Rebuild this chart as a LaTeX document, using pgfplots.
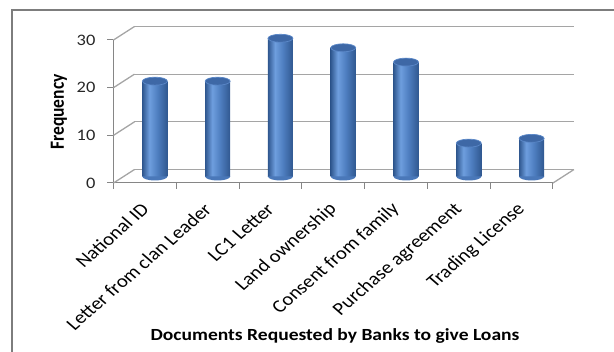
\documentclass[border=0pt]{standalone}
\usepackage{pgfplots}
\pgfplotsset{compat=1.18}
\usepackage{fontspec}
\setmainfont{Carlito}
\definecolor{gridc}{RGB}{165,165,165}
\definecolor{axc}{RGB}{134,134,134}
\definecolor{framec}{RGB}{125,125,125}
\definecolor{bdark}{RGB}{48,88,144}
\definecolor{blight}{RGB}{110,158,222}
\definecolor{bmid}{RGB}{78,126,192}
\definecolor{capc}{RGB}{62,104,166}
\pgfdeclarehorizontalshading{cyl}{100bp}{color(0bp)=(bdark); color(25bp)=(bdark); color(39bp)=(blight); color(55bp)=(bmid); color(75bp)=(bdark); color(100bp)=(bdark)}
\pgfdeclareplotmark{cylcap}{\pgfpathellipse{\pgfpointorigin}{\pgfqpoint{12.5pt}{0pt}}{\pgfqpoint{0pt}{4pt}}\pgfusepathqfillstroke}
\pgfdeclareplotmark{cylbot}{\pgfpathmoveto{\pgfqpoint{-12.5pt}{0pt}}\pgfpatharc{180}{360}{12.5pt and 4pt}\pgfpathclose\pgfusepathqfill}
\pgfplotsset{cylbar/.style={ybar, bar width=25pt, bar shift=10pt, yshift=6.5pt, draw=none, shading=cyl}}
\begin{document}
\begin{tikzpicture}
\path[use as bounding box] (0,0) rectangle (614pt,352pt);
\draw[framec, line width=1.8pt] (12pt,-20pt) rectangle (640pt,342pt);
\begin{axis}[
  at={(113.5pt,169pt)}, anchor=south west,
  scale only axis, width=439.5pt, height=143pt,
  xmin=-0.5, xmax=6.5, ymin=0, ymax=30,
  clip=false,
  axis x line*=bottom, axis y line*=left,
  axis line style={axc, line width=1pt, -},
  tick align=outside,
  /pgf/number format/assume math mode=true,
  xtick={0,...,6},
  xticklabels={National ID, Letter from clan Leader, LC1 Letter, Land ownership, Consent from family, Purchase agreement, Trading License},
  major x tick style={draw=none},
  minor xtick={-0.5,0.5,1.5,2.5,3.5,4.5,5.5,6.5},
  minor tick length=6pt,
  minor x tick style={axc, line width=1pt},
  ytick={0,10,20,30},
  major tick length=6pt,
  y tick style={axc, line width=1pt},
  yticklabel style={font=\fontsize{16}{16}\selectfont, xscale=1.15, xshift=-7pt, text=black!85},
  xticklabel style={font=\fontsize{18}{18}\selectfont, xshift=3pt, yshift=-15pt, xscale=1.15, rotate=45, anchor=east},
  xlabel={Documents Requested by Banks to give Loans},
  ylabel={Frequency},
  every axis x label/.style={at={(axis description cs:0.504,-1.068)}, anchor=center, xscale=1.15, font=\fontsize{17}{17}\selectfont\bfseries},
  every axis y label/.style={at={(axis description cs:-0.124,0.497)}, xscale=1.15, rotate=90, anchor=center, font=\fontsize{17.5}{17.5}\selectfont\bfseries},
]
% back wall gridlines
\addplot[gridc, line width=1.3pt, no marks] coordinates {(-0.166,2.83) (6.834,2.83)};
\addplot[gridc, line width=1.3pt, no marks] coordinates {(-0.166,12.83) (6.834,12.83)};
\addplot[gridc, line width=1.3pt, no marks] coordinates {(-0.166,22.83) (6.834,22.83)};
\addplot[gridc, line width=1.3pt, no marks] coordinates {(-0.166,32.83) (6.834,32.83)};
% side wall diagonals
\addplot[gridc, line width=1.3pt, no marks] coordinates {(-0.5,0) (-0.166,2.83)};
\addplot[gridc, line width=1.3pt, no marks] coordinates {(-0.5,10) (-0.166,12.83)};
\addplot[gridc, line width=1.3pt, no marks] coordinates {(-0.5,20) (-0.166,22.83)};
\addplot[gridc, line width=1.3pt, no marks] coordinates {(-0.5,30) (-0.166,32.83)};
\addplot[gridc, line width=1.3pt, no marks] coordinates {(6.5,0) (6.834,2.83)};
% cylinder bottoms
\addplot[only marks, mark=cylbot, mark options={fill=bmid!85!bdark, draw=none}, xshift=10pt, yshift=6.5pt]
  coordinates {(0,0) (1,0) (2,0) (3,0) (4,0) (5,0) (6,0)};
% cylinder bodies, one per category
\addplot[cylbar] coordinates {(0,20)};
\addplot[cylbar] coordinates {(1,20)};
\addplot[cylbar] coordinates {(2,29)};
\addplot[cylbar] coordinates {(3,27)};
\addplot[cylbar] coordinates {(4,24)};
\addplot[cylbar] coordinates {(5,7)};
\addplot[cylbar] coordinates {(6,8)};
% cylinder tops
\addplot[only marks, mark=cylcap, mark options={fill=capc, draw=blight!60!capc, line width=0.7pt}, xshift=10pt, yshift=6.5pt]
  coordinates {(0,20) (1,20) (2,29) (3,27) (4,24) (5,7) (6,8)};
\end{axis}
\end{tikzpicture}
\end{document}
